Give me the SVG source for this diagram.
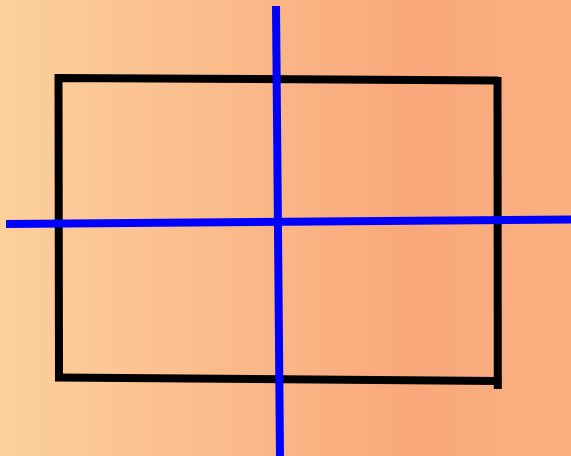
<svg xmlns="http://www.w3.org/2000/svg" width="571" height="456" viewBox="0 0 571 456">
  <defs>
    <linearGradient id="bg" x1="0" y1="0" x2="1" y2="0">
      <stop offset="0" stop-color="#FCD19B"/>
      <stop offset="0.3" stop-color="#FBC08F"/>
      <stop offset="0.72" stop-color="#F9A87B"/>
      <stop offset="1" stop-color="#FAB080"/>
    </linearGradient>
  </defs>
  <style>
    .frame { fill: none; stroke: #000000; stroke-width: 8; stroke-linecap: butt; stroke-linejoin: miter; }
    .axis { fill: none; stroke: #0000FF; stroke-width: 8; stroke-linecap: butt; }
  </style>
  <rect x="0" y="0" width="571" height="456" fill="url(#bg)"/>
  <g id="frame">
    <path class="frame" d="M59,381 L58.5,78 L498,80.5"/>
    <path class="frame" d="M497.5,77 L497.8,389"/>
    <path class="frame" d="M55,377.5 L497.5,381"/>
  </g>
  <g id="axes">
    <line class="axis" x1="6" y1="224" x2="571" y2="219.5"/>
    <line class="axis" x1="276" y1="6" x2="280" y2="456"/>
  </g>
</svg>
